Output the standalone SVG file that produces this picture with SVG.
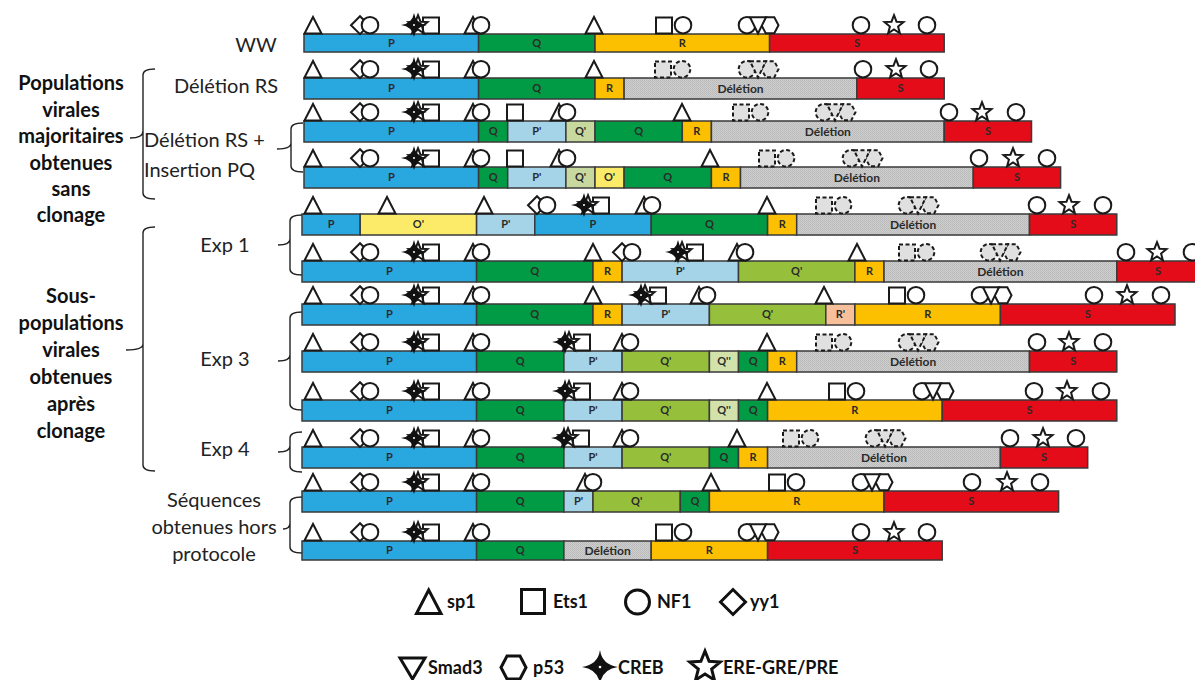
<svg xmlns="http://www.w3.org/2000/svg" width="1195" height="680" viewBox="0 0 1195 680">
<style>
  .sym { fill:#fff; stroke:#1a1a1a; stroke-width:2; stroke-linejoin:miter; }
  .dsym { fill:#e0e0e0; stroke:#1a1a1a; stroke-width:2; stroke-dasharray:4 2.5; }
  .seg { stroke:#3a3a3a; stroke-width:1.5; }
  .lbl { font-family:Lato, "Liberation Sans", sans-serif; font-weight:bold; font-size:11px; fill:#2a2a2a; text-anchor:middle; }
  .del { font-size:12px; }
  .cP { fill:#29a8e0; } .cQ { fill:#009b44; } .cR { fill:#fcc000; } .cS { fill:#e30c18; }
  .cP2 { fill:#a5d3e8; } .cQ2p { fill:#c8d9a0; } .cQ2 { fill:#96c03c; } .cQ3 { fill:#d2e2aa; }
  .cO2 { fill:#fbeb68; } .cR2 { fill:#f7c09a; } .cD { fill:url(#grain); }
  .side { font-family:Lato, "Liberation Sans", sans-serif; font-size:20px; fill:#222; text-anchor:middle; }
  .grp { font-family:Lato, "Liberation Sans", sans-serif; font-size:20px; font-weight:bold; fill:#111; text-anchor:middle; }
  .brace { fill:none; stroke:#222; stroke-width:1.4; }
  .leg { font-family:Lato, "Liberation Sans", sans-serif; font-size:18px; font-weight:bold; fill:#111; }
  .lsym { fill:#fff; stroke:#111; stroke-width:3; }
</style>
<defs>
  <pattern id="grain" width="2" height="2" patternUnits="userSpaceOnUse">
    <rect width="2" height="2" fill="#cdcdcd"/>
    <rect width="1" height="1" fill="#b9b9b9"/>
    <rect x="1" y="1" width="1" height="1" fill="#bfbfbf"/>
  </pattern>
  <!-- binding-site glyphs, origin at bottom centre -->
  <g id="tri"><path class="sym" d="M-8.5,-0.5 L8.5,-0.5 L0,-17 Z"/></g>
  <g id="sq"><rect class="sym" x="-8" y="-16.5" width="16" height="16"/></g>
  <g id="circ"><circle class="sym" cx="0" cy="-8.8" r="8.3"/></g>
  <g id="dia"><path class="sym" d="M-9,-8.8 L0,-17.8 L9,-8.8 L0,0.2 Z"/></g>
  <g id="smad"><path class="sym" d="M-8,-16.8 L8,-16.8 L0,-0.5 Z"/></g>
  <g id="hex"><path class="sym" d="M-8.5,-8.8 L-4.3,-16.8 L4.3,-16.8 L8.5,-8.8 L4.3,-0.8 L-4.3,-0.8 Z"/></g>
  <g id="star"><path class="sym" d="M0,-18.8 L2.53,-12.28 L9.51,-11.89 L4.09,-7.47 L5.88,-0.71 L0,-4.5 L-5.88,-0.71 L-4.09,-7.47 L-9.51,-11.89 L-2.53,-12.28 Z"/></g>
  <g id="creb"><path fill="#111" d="M-13,-9 Q-1.6,-10.6 0,-21 Q1.6,-10.6 13,-9 Q1.6,-7.4 0,3 Q-1.6,-7.4 -13,-9 Z"/><circle cx="0" cy="-9" r="2.6" fill="#111"/><circle cx="0" cy="-9" r="1" fill="#fff"/></g>
  <g id="dsq"><rect class="dsym" x="-8" y="-16.5" width="16" height="16"/></g>
  <g id="dcirc"><circle class="dsym" cx="0" cy="-8.8" r="8.3"/></g>
  <g id="dsmad"><path class="dsym" d="M-8,-16.8 L8,-16.8 L0,-0.5 Z"/></g>
  <g id="dhex"><path class="dsym" d="M-8.5,-8.8 L-4.3,-16.8 L4.3,-16.8 L8.5,-8.8 L4.3,-0.8 L-4.3,-0.8 Z"/></g>
  <!-- recurring clusters -->
  <g id="dc"><use href="#dia" x="-10"/><use href="#circ"/></g>
  <g id="cs"><use href="#sq" x="17"/><use href="#star" x="4"/><use href="#creb"/></g>
  <g id="tc"><use href="#tri" x="-8"/><use href="#circ"/></g>
  <g id="sc"><use href="#sq"/><use href="#circ" x="19"/></g>
  <g id="csh"><use href="#circ"/><use href="#hex" x="23"/><use href="#smad" x="11"/></g>
  <g id="dsc"><use href="#dsq"/><use href="#dcirc" x="19"/></g>
  <g id="dcsh"><use href="#dcirc"/><use href="#dhex" x="23"/><use href="#dsmad" x="11"/></g>
  <g id="pmotif"><use href="#tri" x="313"/><use href="#dc" x="370"/><use href="#cs" x="414"/><use href="#tc" x="481"/></g>
</defs>

<rect width="1195" height="680" fill="#fff"/>

<!-- left-hand captions -->
<g id="captions">
  <text class="side" x="256" y="52">WW</text>
  <text class="side" x="226" y="93">Délétion RS</text>
  <text class="side" x="144" y="147" style="text-anchor:start">Délétion RS +</text>
  <text class="side" x="144" y="177" style="text-anchor:start">Insertion PQ</text>
  <text class="side" x="225" y="252">Exp 1</text>
  <text class="side" x="225" y="366">Exp 3</text>
  <text class="side" x="225" y="456">Exp 4</text>
  <text class="side" x="214" y="507">Séquences</text>
  <text class="side" x="214" y="534">obtenues hors</text>
  <text class="side" x="214" y="561">protocole</text>
  <text class="grp" x="71"><tspan x="71" y="90">Populations</tspan><tspan x="71" y="117">virales</tspan><tspan x="71" y="143">majoritaires</tspan><tspan x="71" y="170">obtenues</tspan><tspan x="71" y="196">sans</tspan><tspan x="71" y="222">clonage</tspan></text>
  <text class="grp" x="71"><tspan x="71" y="303">Sous-</tspan><tspan x="71" y="330">populations</tspan><tspan x="71" y="357">virales</tspan><tspan x="71" y="384">obtenues</tspan><tspan x="71" y="411">après</tspan><tspan x="71" y="438">clonage</tspan></text>
</g>

<!-- braces -->
<g id="connectors">
  <path class="brace" d="M155,69 Q143,69 143,75 L143,131 Q143,138 130,138 M143,131 Q143,138 143,145 L143,193 Q143,199 155,199"/>
  <path class="brace" d="M155,227 Q143,227 143,233 L143,344 Q143,350 126,350 M143,344 Q143,350 143,356 L143,465 Q143,471 155,471"/>
  <path class="brace" d="M303,123 Q291,123 291,129 L291,143 Q291,149 277,149 M291,143 Q291,149 291,155 L291,166 Q291,172 303,172"/>
  <path class="brace" d="M302,215 Q290,215 290,221 L290,239 Q290,245 278,245 M290,239 Q290,245 290,251 L290,269 Q290,275 302,275"/>
  <path class="brace" d="M302,312 Q290,312 290,318 L290,355 Q290,361 278,361 M290,355 Q290,361 290,367 L290,404 Q290,410 302,410"/>
  <path class="brace" d="M302,432 Q290,432 290,438 L290,446 Q290,452 278,452 M290,446 Q290,452 290,458 L290,466 Q290,472 302,472"/>
  <path class="brace" d="M302,497 Q290,497 290,503 L290,523 Q290,529 283,529 M290,523 Q290,529 290,535 L290,547 Q290,553 302,553"/>
</g>

<!-- WW -->
<g id="row-ww">
  <rect class="seg cP" x="304" y="34" width="174.6" height="18"/><text class="lbl" x="391.3" y="47">P</text>
  <rect class="seg cQ" x="478.6" y="34" width="116.4" height="18"/><text class="lbl" x="536.8" y="47">Q</text>
  <rect class="seg cR" x="595" y="34" width="174.6" height="18"/><text class="lbl" x="682.3" y="47">R</text>
  <rect class="seg cS" x="769.6" y="34" width="174.6" height="18"/><text class="lbl" x="856.9" y="47">S</text>
  <g transform="translate(0,34)"><use href="#pmotif"/><use href="#tri" x="594"/><use href="#sc" x="664"/><use href="#csh" x="747"/><use href="#circ" x="861"/><use href="#star" x="894"/><use href="#circ" x="927"/></g>
</g>

<!-- Délétion RS -->
<g id="row-deletion-rs">
  <rect class="seg cP" x="304" y="78" width="174.6" height="21"/><text class="lbl" x="391.3" y="92.4">P</text>
  <rect class="seg cQ" x="478.6" y="78" width="116.4" height="21"/><text class="lbl" x="536.8" y="92.4">Q</text>
  <rect class="seg cR" x="595" y="78" width="29.1" height="21"/><text class="lbl" x="609.6" y="92.4">R</text>
  <rect class="seg cD" x="624.1" y="78" width="232.8" height="21"/><text class="lbl del" x="740.5" y="92.7">Délétion</text>
  <rect class="seg cS" x="856.9" y="78" width="87.3" height="21"/><text class="lbl" x="900.6" y="92.4">S</text>
  <g transform="translate(0,78)"><use href="#pmotif"/><use href="#tri" x="594"/><use href="#dsc" x="663"/><use href="#dcsh" x="747"/><use href="#circ" x="863"/><use href="#star" x="896"/><use href="#circ" x="929"/></g>
</g>

<!-- Délétion RS + Insertion PQ, first -->
<g id="row-insertion-1">
  <rect class="seg cP" x="304" y="121" width="174.6" height="21"/><text class="lbl" x="391.3" y="135.4">P</text>
  <rect class="seg cQ" x="478.6" y="121" width="29.1" height="21"/><text class="lbl" x="493.2" y="135.4">Q</text>
  <rect class="seg cP2" x="507.7" y="121" width="58.2" height="21"/><text class="lbl" x="536.8" y="135.4">P'</text>
  <rect class="seg cQ2p" x="565.9" y="121" width="29.1" height="21"/><text class="lbl" x="580.5" y="135.4">Q'</text>
  <rect class="seg cQ" x="595" y="121" width="87.3" height="21"/><text class="lbl" x="638.7" y="135.4">Q</text>
  <rect class="seg cR" x="682.3" y="121" width="29.1" height="21"/><text class="lbl" x="696.9" y="135.4">R</text>
  <rect class="seg cD" x="711.4" y="121" width="232.8" height="21"/><text class="lbl del" x="827.8" y="135.7">Délétion</text>
  <rect class="seg cS" x="944.2" y="121" width="87.3" height="21"/><text class="lbl" x="987.9" y="135.4">S</text>
  <g transform="translate(0,121)"><use href="#pmotif"/><use href="#sq" x="515"/><use href="#tc" x="567"/><use href="#tri" x="682"/><use href="#dsc" x="741"/><use href="#dcsh" x="824"/><use href="#circ" x="949"/><use href="#star" x="982"/><use href="#circ" x="1016"/></g>
</g>

<!-- Délétion RS + Insertion PQ, second -->
<g id="row-insertion-2">
  <rect class="seg cP" x="304" y="167" width="174.6" height="21"/><text class="lbl" x="391.3" y="181.4">P</text>
  <rect class="seg cQ" x="478.6" y="167" width="29.1" height="21"/><text class="lbl" x="493.2" y="181.4">Q</text>
  <rect class="seg cP2" x="507.7" y="167" width="58.2" height="21"/><text class="lbl" x="536.8" y="181.4">P'</text>
  <rect class="seg cQ2p" x="565.9" y="167" width="29.1" height="21"/><text class="lbl" x="580.5" y="181.4">Q'</text>
  <rect class="seg cO2" x="595" y="167" width="29.1" height="21"/><text class="lbl" x="609.6" y="181.4">O'</text>
  <rect class="seg cQ" x="624.1" y="167" width="87.3" height="21"/><text class="lbl" x="667.8" y="181.4">Q</text>
  <rect class="seg cR" x="711.4" y="167" width="29.1" height="21"/><text class="lbl" x="726" y="181.4">R</text>
  <rect class="seg cD" x="740.5" y="167" width="232.8" height="21"/><text class="lbl del" x="856.9" y="181.7">Délétion</text>
  <rect class="seg cS" x="973.3" y="167" width="87.3" height="21"/><text class="lbl" x="1017" y="181.4">S</text>
  <g transform="translate(0,167)"><use href="#pmotif"/><use href="#sq" x="515"/><use href="#tc" x="567"/><use href="#tri" x="710"/><use href="#dsc" x="767"/><use href="#dcsh" x="851"/><use href="#circ" x="979"/><use href="#star" x="1013"/><use href="#circ" x="1047"/></g>
</g>

<!-- Exp 1, first clone -->
<g id="row-exp1-a">
  <rect class="seg cP" x="302" y="214" width="58.2" height="21"/><text class="lbl" x="331.1" y="228.4">P</text>
  <rect class="seg cO2" x="360.2" y="214" width="116.4" height="21"/><text class="lbl" x="418.4" y="228.4">O'</text>
  <rect class="seg cP2" x="476.6" y="214" width="58.2" height="21"/><text class="lbl" x="505.7" y="228.4">P'</text>
  <rect class="seg cP" x="534.8" y="214" width="116.4" height="21"/><text class="lbl" x="593" y="228.4">P</text>
  <rect class="seg cQ" x="651.2" y="214" width="116.4" height="21"/><text class="lbl" x="709.4" y="228.4">Q</text>
  <rect class="seg cR" x="767.6" y="214" width="29.1" height="21"/><text class="lbl" x="782.2" y="228.4">R</text>
  <rect class="seg cD" x="796.7" y="214" width="232.8" height="21"/><text class="lbl del" x="913.1" y="228.7">Délétion</text>
  <rect class="seg cS" x="1029.5" y="214" width="87.3" height="21"/><text class="lbl" x="1073.2" y="228.4">S</text>
  <g transform="translate(0,214)"><use href="#tri" x="313"/><use href="#tri" x="387"/><use href="#tri" x="484"/><use href="#dc" x="547"/><use href="#cs" x="584"/><use href="#tc" x="652"/><use href="#tri" x="767"/><use href="#dsc" x="824"/><use href="#dcsh" x="907"/><use href="#circ" x="1037"/><use href="#star" x="1069"/><use href="#circ" x="1103"/></g>
</g>

<!-- Exp 1, second clone -->
<g id="row-exp1-b">
  <rect class="seg cP" x="302" y="261" width="174.6" height="21"/><text class="lbl" x="389.3" y="275.4">P</text>
  <rect class="seg cQ" x="476.6" y="261" width="116.4" height="21"/><text class="lbl" x="534.8" y="275.4">Q</text>
  <rect class="seg cR" x="593" y="261" width="29.1" height="21"/><text class="lbl" x="607.6" y="275.4">R</text>
  <rect class="seg cP2" x="622.1" y="261" width="116.4" height="21"/><text class="lbl" x="680.3" y="275.4">P'</text>
  <rect class="seg cQ2" x="738.5" y="261" width="116.4" height="21"/><text class="lbl" x="796.7" y="275.4">Q'</text>
  <rect class="seg cR" x="854.9" y="261" width="29.1" height="21"/><text class="lbl" x="869.5" y="275.4">R</text>
  <rect class="seg cD" x="884" y="261" width="232.8" height="21"/><text class="lbl del" x="1000.4" y="275.7">Délétion</text>
  <rect class="seg cS" x="1116.8" y="261" width="87.3" height="21"/><text class="lbl" x="1158" y="275.4">S</text>
  <g transform="translate(0,261)"><use href="#pmotif"/><use href="#tri" x="593"/><use href="#dc" x="632"/><use href="#cs" x="678"/><use href="#tc" x="745"/><use href="#tri" x="857"/><use href="#dsc" x="907"/><use href="#dcsh" x="989"/><use href="#circ" x="1126"/><use href="#star" x="1157"/><use href="#circ" x="1192"/></g>
</g>

<!-- Exp 3, first clone -->
<g id="row-exp3-a">
  <rect class="seg cP" x="302" y="304" width="174.6" height="21"/><text class="lbl" x="389.3" y="318.4">P</text>
  <rect class="seg cQ" x="476.6" y="304" width="116.4" height="21"/><text class="lbl" x="534.8" y="318.4">Q</text>
  <rect class="seg cR" x="593" y="304" width="29.1" height="21"/><text class="lbl" x="607.6" y="318.4">R</text>
  <rect class="seg cP2" x="622.1" y="304" width="87.3" height="21"/><text class="lbl" x="665.8" y="318.4">P'</text>
  <rect class="seg cQ2" x="709.4" y="304" width="116.4" height="21"/><text class="lbl" x="767.6" y="318.4">Q'</text>
  <rect class="seg cR2" x="825.8" y="304" width="29.1" height="21"/><text class="lbl" x="840.4" y="318.4">R'</text>
  <rect class="seg cR" x="854.9" y="304" width="145.5" height="21"/><text class="lbl" x="927.7" y="318.4">R</text>
  <rect class="seg cS" x="1000.4" y="304" width="174.6" height="21"/><text class="lbl" x="1087.7" y="318.4">S</text>
  <g transform="translate(0,304)"><use href="#pmotif"/><use href="#tri" x="593"/><use href="#cs" x="641"/><use href="#tc" x="707"/><use href="#tri" x="824"/><use href="#sc" x="897"/><use href="#csh" x="980"/><use href="#circ" x="1094"/><use href="#star" x="1127"/><use href="#circ" x="1161"/></g>
</g>

<!-- Exp 3, second clone -->
<g id="row-exp3-b">
  <rect class="seg cP" x="302" y="351" width="174.6" height="21"/><text class="lbl" x="389.3" y="365.4">P</text>
  <rect class="seg cQ" x="476.6" y="351" width="87.3" height="21"/><text class="lbl" x="520.3" y="365.4">Q</text>
  <rect class="seg cP2" x="563.9" y="351" width="58.2" height="21"/><text class="lbl" x="593" y="365.4">P'</text>
  <rect class="seg cQ2" x="622.1" y="351" width="87.3" height="21"/><text class="lbl" x="665.8" y="365.4">Q'</text>
  <rect class="seg cQ3" x="709.4" y="351" width="29.1" height="21"/><text class="lbl" x="724" y="365.4">Q''</text>
  <rect class="seg cQ" x="738.5" y="351" width="29.1" height="21"/><text class="lbl" x="753.1" y="365.4">Q</text>
  <rect class="seg cR" x="767.6" y="351" width="29.1" height="21"/><text class="lbl" x="782.2" y="365.4">R</text>
  <rect class="seg cD" x="796.7" y="351" width="232.8" height="21"/><text class="lbl del" x="913.1" y="365.7">Délétion</text>
  <rect class="seg cS" x="1029.5" y="351" width="87.3" height="21"/><text class="lbl" x="1073.2" y="365.4">S</text>
  <g transform="translate(0,351)"><use href="#pmotif"/><use href="#cs" x="565"/><use href="#tc" x="630"/><use href="#tri" x="767"/><use href="#dsc" x="824"/><use href="#dcsh" x="907"/><use href="#circ" x="1037"/><use href="#star" x="1069"/><use href="#circ" x="1103"/></g>
</g>

<!-- Exp 3, third clone -->
<g id="row-exp3-c">
  <rect class="seg cP" x="302" y="400" width="174.6" height="21"/><text class="lbl" x="389.3" y="414.4">P</text>
  <rect class="seg cQ" x="476.6" y="400" width="87.3" height="21"/><text class="lbl" x="520.3" y="414.4">Q</text>
  <rect class="seg cP2" x="563.9" y="400" width="58.2" height="21"/><text class="lbl" x="593" y="414.4">P'</text>
  <rect class="seg cQ2" x="622.1" y="400" width="87.3" height="21"/><text class="lbl" x="665.8" y="414.4">Q'</text>
  <rect class="seg cQ3" x="709.4" y="400" width="29.1" height="21"/><text class="lbl" x="724" y="414.4">Q''</text>
  <rect class="seg cQ" x="738.5" y="400" width="29.1" height="21"/><text class="lbl" x="753.1" y="414.4">Q</text>
  <rect class="seg cR" x="767.6" y="400" width="174.6" height="21"/><text class="lbl" x="854.9" y="414.4">R</text>
  <rect class="seg cS" x="942.2" y="400" width="174.6" height="21"/><text class="lbl" x="1029.5" y="414.4">S</text>
  <g transform="translate(0,400)"><use href="#pmotif"/><use href="#cs" x="565"/><use href="#tc" x="630"/><use href="#tri" x="767"/><use href="#sc" x="837"/><use href="#csh" x="922"/><use href="#circ" x="1034"/><use href="#star" x="1067"/><use href="#circ" x="1101"/></g>
</g>

<!-- Exp 4 -->
<g id="row-exp4">
  <rect class="seg cP" x="302" y="447" width="174.6" height="21"/><text class="lbl" x="389.3" y="461.4">P</text>
  <rect class="seg cQ" x="476.6" y="447" width="87.3" height="21"/><text class="lbl" x="520.3" y="461.4">Q</text>
  <rect class="seg cP2" x="563.9" y="447" width="58.2" height="21"/><text class="lbl" x="593" y="461.4">P'</text>
  <rect class="seg cQ2" x="622.1" y="447" width="87.3" height="21"/><text class="lbl" x="665.8" y="461.4">Q'</text>
  <rect class="seg cQ" x="709.4" y="447" width="29.1" height="21"/><text class="lbl" x="724" y="461.4">Q</text>
  <rect class="seg cR" x="738.5" y="447" width="29.1" height="21"/><text class="lbl" x="753.1" y="461.4">R</text>
  <rect class="seg cD" x="767.6" y="447" width="232.8" height="21"/><text class="lbl del" x="884" y="461.7">Délétion</text>
  <rect class="seg cS" x="1000.4" y="447" width="87.3" height="21"/><text class="lbl" x="1044.1" y="461.4">S</text>
  <g transform="translate(0,447)"><use href="#pmotif"/><use href="#cs" x="564"/><use href="#tc" x="630"/><use href="#tri" x="737"/><use href="#dsc" x="791"/><use href="#dcsh" x="874"/><use href="#circ" x="1010"/><use href="#star" x="1043"/><use href="#circ" x="1076"/></g>
</g>

<!-- Séquences hors protocole, first -->
<g id="row-other-a">
  <rect class="seg cP" x="302" y="491" width="174.6" height="21"/><text class="lbl" x="389.3" y="505.4">P</text>
  <rect class="seg cQ" x="476.6" y="491" width="87.3" height="21"/><text class="lbl" x="520.3" y="505.4">Q</text>
  <rect class="seg cP2" x="563.9" y="491" width="29.1" height="21"/><text class="lbl" x="578.5" y="505.4">P'</text>
  <rect class="seg cQ2" x="593" y="491" width="87.3" height="21"/><text class="lbl" x="636.7" y="505.4">Q'</text>
  <rect class="seg cQ" x="680.3" y="491" width="29.1" height="21"/><text class="lbl" x="694.9" y="505.4">Q</text>
  <rect class="seg cR" x="709.4" y="491" width="174.6" height="21"/><text class="lbl" x="796.7" y="505.4">R</text>
  <rect class="seg cS" x="884" y="491" width="174.6" height="21"/><text class="lbl" x="971.3" y="505.4">S</text>
  <g transform="translate(0,491)"><use href="#pmotif"/><use href="#tc" x="593"/><use href="#tri" x="711"/><use href="#sc" x="777"/><use href="#csh" x="861"/><use href="#circ" x="972"/><use href="#star" x="1007"/><use href="#circ" x="1040"/></g>
</g>

<!-- Séquences hors protocole, second -->
<g id="row-other-b">
  <rect class="seg cP" x="302" y="541" width="174.6" height="19"/><text class="lbl" x="389.3" y="554.4">P</text>
  <rect class="seg cQ" x="476.6" y="541" width="87.3" height="19"/><text class="lbl" x="520.3" y="554.4">Q</text>
  <rect class="seg cD" x="563.9" y="541" width="87.3" height="19"/><text class="lbl del" x="607.6" y="554.7">Délétion</text>
  <rect class="seg cR" x="651.2" y="541" width="116.4" height="19"/><text class="lbl" x="709.4" y="554.4">R</text>
  <rect class="seg cS" x="767.6" y="541" width="174.6" height="19"/><text class="lbl" x="854.9" y="554.4">S</text>
  <g transform="translate(0,541)"><use href="#pmotif"/><use href="#sc" x="664"/><use href="#csh" x="747"/><use href="#circ" x="861"/><use href="#star" x="894"/><use href="#circ" x="927"/></g>
</g>

<!-- key -->
<g id="legend">
  <path class="lsym" d="M416.5,613.5 L441,613.5 L428.7,590 Z"/><text class="leg" x="447" y="608">sp1</text>
  <rect class="lsym" x="521.5" y="589.5" width="23" height="24"/><text class="leg" x="553" y="608">Ets1</text>
  <circle class="lsym" cx="637.5" cy="602" r="12"/><text class="leg" x="657" y="608">NF1</text>
  <path class="lsym" d="M720.5,602 L733,589.5 L745.5,602 L733,614.5 Z"/><text class="leg" x="750" y="608">yy1</text>
  <path class="lsym" d="M400,658 L425,658 L412.5,679 Z"/><text class="leg" x="428" y="674">Smad3</text>
  <path class="lsym" d="M501,667.5 L507,656 L520,656 L526,667.5 L520,679 L507,679 Z"/><text class="leg" x="533" y="674">p53</text>
  <path fill="#111" d="M582,667 Q597.8,664.8 600,650 Q602.2,664.8 618,667 Q602.2,669.2 600,684 Q597.8,669.2 582,667 Z"/><circle cx="600" cy="667" r="3.2" fill="#111"/><circle cx="600" cy="667" r="1.3" fill="#fff"/><text class="leg" x="618" y="674">CREB</text>
  <path class="lsym" d="M705,651 L709.11,661.34 L720.22,662.06 L711.66,669.16 L714.4,679.94 L705,674 L695.6,679.94 L698.34,669.16 L689.78,662.06 L700.89,661.34 Z"/><text class="leg" x="723" y="674">ERE-GRE/PRE</text>
</g>
</svg>
